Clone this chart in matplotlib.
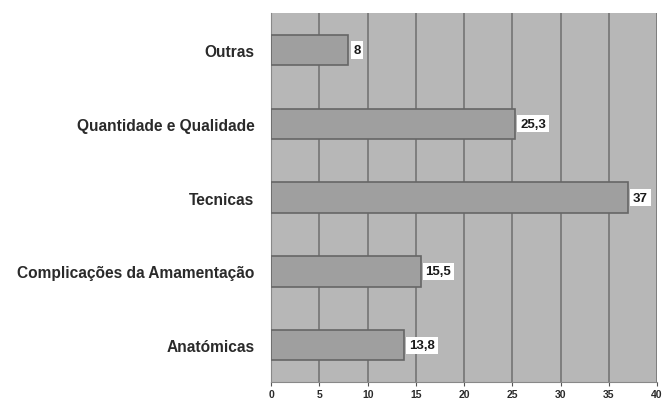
import matplotlib
matplotlib.use("Agg")
import matplotlib.pyplot as plt

categories = ["Anatómicas", "Complicações da Amamentação", "Tecnicas",
              "Quantidade e Qualidade", "Outras"]
values = [13.8, 15.5, 37, 25.3, 8]
value_labels = ["13,8", "15,5", "37", "25,3", "8"]
xticks = [0, 5, 10, 15, 20, 25, 30, 35, 40]

plt.rcParams["font.family"] = ["Liberation Sans", "DejaVu Sans"]

fig = plt.figure(figsize=(6.63, 4.02), dpi=100)
ax = fig.add_axes([0.409, 0.047, 0.582, 0.918])
ax.set_facecolor("#b7b7b7")

y = range(len(categories))
ax.barh(y, values, height=0.41, color="#9f9f9f", edgecolor="#666666",
        linewidth=1.2, zorder=3)

for yi, v, lab in zip(y, values, value_labels):
    ax.text(v + 0.5, yi, lab, ha="left", va="center", fontsize=9.5,
            fontweight="bold", color="#1a1a1a", zorder=4,
            bbox=dict(boxstyle="square,pad=0.2", facecolor="white",
                      edgecolor="none"))

ax.set_xlim(0, 40)
ax.set_ylim(-0.5, len(categories) - 0.5)
ax.set_xticks(xticks)
ax.set_xticklabels([str(t) for t in xticks], fontsize=7.5, fontweight="bold",
                   color="#2a2a2a")
ax.set_yticks(list(y))
ax.set_yticklabels(categories, fontsize=11.2, fontweight="bold",
                   color="#2a2a2a")
ax.xaxis.grid(True, color="#7a7a7a", linewidth=1.3, zorder=0)
ax.set_axisbelow(True)
ax.tick_params(axis="y", length=0, pad=12)
ax.tick_params(axis="x", length=3, color="#555555", pad=2)
for side in ["top", "right"]:
    ax.spines[side].set_visible(False)
ax.spines["left"].set_color("#888888")
ax.spines["bottom"].set_color("#888888")

fig.savefig("out.png", dpi=100, facecolor="white")
